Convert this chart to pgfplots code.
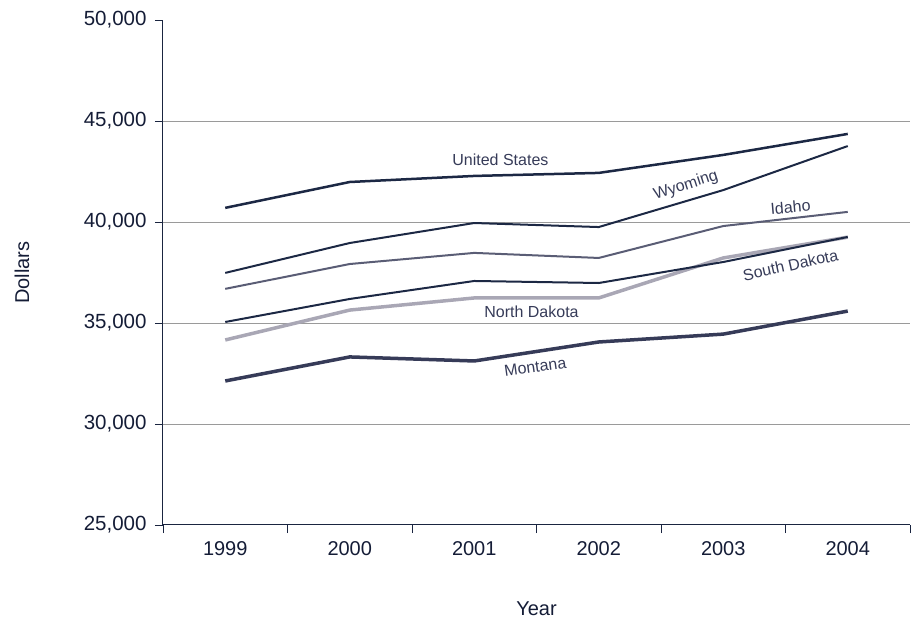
\documentclass[border=0pt]{standalone}
\usepackage{fontspec}
\setmainfont{Liberation Sans}
\usepackage{pgfplots}
\pgfplotsset{compat=1.18}

\definecolor{axisc}{HTML}{1A2540}
\definecolor{textc}{HTML}{141C36}
\definecolor{navy}{HTML}{1C2844}
\definecolor{slate}{HTML}{5A5D75}
\definecolor{lightg}{HTML}{A9A7B5}
\definecolor{montc}{HTML}{363B58}
\definecolor{gridc}{HTML}{9A9A9A}

\begin{document}
\begin{tikzpicture}
% fixed page frame around the plot area
\path (-163pt,-94pt) rectangle (753pt,525pt);
\begin{axis}[
  at={(0pt,0pt)}, anchor=south west,
  width=747pt, height=505pt, scale only axis,
  xmin=-0.5, xmax=5.5, ymin=25000, ymax=50000,
  axis lines=left,
  axis line style={-, draw=axisc, line width=1pt},
  tick align=outside,
  major tick length=8pt,
  tick style={draw=axisc, line width=0.8pt},
  xtick={-0.5,0.5,1.5,2.5,3.5,4.5,5.5},
  xticklabels={},
  extra x ticks={0,1,2,3,4,5},
  extra x tick labels={1999,2000,2001,2002,2003,2004},
  extra x tick style={major tick length=0pt,
    tick label style={font=\fontsize{20}{22}\selectfont, text=textc, yshift=-13pt}},
  ytick={25000,30000,35000,40000,45000,50000},
  yticklabel style={font=\fontsize{20.5}{22}\selectfont, text=textc, xshift=-5pt},
  extra y ticks={30000,35000,40000,45000},
  extra y tick labels={},
  extra y tick style={grid=major, major tick length=0pt},
  grid style={draw=gridc, line width=0.8pt},
  scaled y ticks=false,
  /pgf/number format/1000 sep={,},
  /pgf/number format/assume math mode=true,
  xlabel={Year}, ylabel={Dollars},
  xlabel style={at={(axis description cs:0.5,-0.1663)}, anchor=center,
    font=\fontsize{20}{22}\selectfont, text=textc},
  ylabel style={at={(axis description cs:-0.1888,0.5)}, anchor=center,
    font=\fontsize{20}{22}\selectfont, text=textc},
  clip=false,
  line join=round,
]
% United States
\addplot[navy, line width=2.5pt] coordinates {
  (0,40700) (1,41980) (2,42280) (3,42430) (4,43320) (5,44360)};
% Wyoming
\addplot[navy, line width=2pt] coordinates {
  (0,37480) (1,38960) (2,39950) (3,39750) (4,41580) (5,43760)};
% Idaho
\addplot[slate, line width=2pt] coordinates {
  (0,36690) (1,37920) (2,38470) (3,38220) (4,39800) (5,40500)};
% North Dakota
\addplot[lightg, line width=3.5pt] coordinates {
  (0,34160) (1,35640) (2,36240) (3,36240) (4,38220) (5,39250)};
% South Dakota
\addplot[navy, line width=2pt] coordinates {
  (0,35050) (1,36190) (2,37080) (3,36980) (4,38020) (5,39260)};
% Montana
\addplot[montc, line width=3.5pt] coordinates {
  (0,32130) (1,33320) (2,33120) (3,34060) (4,34450) (5,35590)};

\begin{scope}[every node/.style={font=\fontsize{16}{18}\selectfont, text=montc, inner sep=0pt}]
\node at (axis cs:2.21,43069) {United States};
\node[rotate=18] at (axis cs:3.70,41800) {Wyoming};
\node[rotate=5] at (axis cs:4.54,40743) {Idaho};
\node[rotate=12.5] at (axis cs:4.54,37870) {South Dakota};
\node at (axis cs:2.46,35544) {North Dakota};
\node[rotate=8] at (axis cs:2.49,32821) {Montana};
\end{scope}
\end{axis}
\end{tikzpicture}
\end{document}
